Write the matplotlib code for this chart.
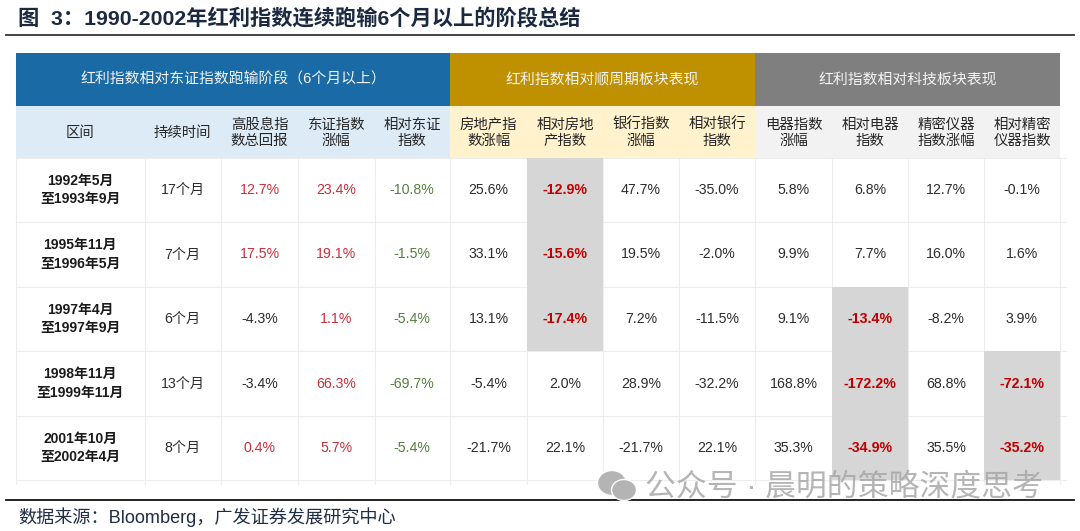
import matplotlib
matplotlib.use("Agg")
import matplotlib.pyplot as plt
import matplotlib.patches as mpatches

plt.rcParams['font.family'] = ['Liberation Sans', 'Noto Sans CJK SC', 'DejaVu Sans']

title = "图  3\uff1a1990-2002年红利指数连续跑输6个月以上的阶段总结"
source = "数据来源\uff1aBloomberg\uff0c广发证券发展研究中心"
watermark = "公众号 · 晨明的策略深度思考"

groups = ["红利指数相对东证指数跑输阶段\uff086个月以上\uff09", "红利指数相对顺周期板块表现", "红利指数相对科技板块表现"]
group_spans = [(0, 5), (5, 9), (9, 13)]
group_colors = ['#1A6AA5', '#BF9000', '#7F7F7F']
sub_colors = ['#DDEBF7', '#FFF2CC', '#F2F2F2']

columns = ["区间", "持续时间", "高股息指\n数总回报", "东证指数\n涨幅", "相对东证\n指数",
           "房地产指\n数涨幅", "相对房地\n产指数", "银行指数\n涨幅", "相对银行\n指数",
           "电器指数\n涨幅", "相对电器\n指数", "精密仪器\n指数涨幅", "相对精密\n仪器指数"]

periods = ["1992年5月\n至1993年9月", "1995年11月\n至1996年5月", "1997年4月\n至1997年9月",
           "1998年11月\n至1999年11月", "2001年10月\n至2002年4月"]
durations = ["17个月", "7个月", "6个月", "13个月", "8个月"]
dividend = ["12.7%", "17.5%", "-4.3%", "-3.4%", "0.4%"]
sse = ["23.4%", "19.1%", "1.1%", "66.3%", "5.7%"]
rel_sse = ["-10.8%", "-1.5%", "-5.4%", "-69.7%", "-5.4%"]
estate = ["25.6%", "33.1%", "13.1%", "-5.4%", "-21.7%"]
rel_estate = ["-12.9%", "-15.6%", "-17.4%", "2.0%", "22.1%"]
bank = ["47.7%", "19.5%", "7.2%", "28.9%", "-21.7%"]
rel_bank = ["-35.0%", "-2.0%", "-11.5%", "-32.2%", "22.1%"]
elec = ["5.8%", "9.9%", "9.1%", "168.8%", "35.3%"]
rel_elec = ["6.8%", "7.7%", "-13.4%", "-172.2%", "-34.9%"]
prec = ["12.7%", "16.0%", "-8.2%", "68.8%", "35.5%"]
rel_prec = ["-0.1%", "1.6%", "3.9%", "-72.1%", "-35.2%"]

table_cols = [periods, durations, dividend, sse, rel_sse, estate, rel_estate,
              bank, rel_bank, elec, rel_elec, prec, rel_prec]

# (row, col) cells with grey fill and bold red text
highlight = [(0, 6), (1, 6), (2, 6), (2, 10), (3, 10), (4, 10), (3, 12), (4, 12)]

RED = '#C00000'
RED_SOFT = '#C8303A'
GREEN = '#55803F'
TEXT = '#2D2D2D'
LINE = '#EDEDED'

col_x = [16, 144.5, 221, 298, 374.5, 450, 527, 603, 679, 755, 832, 908, 984, 1060]
row_y = [158, 222, 287, 351, 416, 480]

fig = plt.figure(figsize=(10.8, 5.31), dpi=100)
ax = fig.add_axes([0, 0, 1, 1])
ax.set_xlim(0, 1080)
ax.set_ylim(531, 0)
ax.axis("off")


def rect(x0, y0, x1, y1, color, z=1):
    ax.add_patch(mpatches.Rectangle((x0, y0), x1 - x0, y1 - y0, fc=color, ec='none', zorder=z))


# title and rules
ax.text(18, 19, title, fontsize=15.3, fontweight='bold', color='#1B2A41', ha='left', va='center')
ax.plot([6, 1074], [35, 35], color='#333333', lw=1.3)
ax.plot([6, 1074], [499.5, 499.5], color='#111111', lw=1.3, zorder=6)
ax.text(18, 517, source, fontsize=13.1, color='#1F2D45', ha='left', va='center')

# header bands
for label, (c0, c1), gc, sc in zip(groups, group_spans, group_colors, sub_colors):
    rect(col_x[c0], 53, col_x[c1], 106, gc)
    rect(col_x[c0], 106, col_x[c1], 158, sc)
    ax.text((col_x[c0] + col_x[c1]) / 2, 80, label, fontsize=10.7, color='#F4F4F4',
            ha='center', va='center', zorder=3)

for i, label in enumerate(columns):
    ax.text((col_x[i] + col_x[i + 1]) / 2, 133, label, fontsize=10.4, color='#262626',
            ha='center', va='center', linespacing=1.2, zorder=3)

# body
for r, c in highlight:
    rect(col_x[c], row_y[r], col_x[c + 1], row_y[r + 1], '#D6D6D6', z=2)

for x in col_x:
    ax.plot([x, x], [158, 484], color=LINE, lw=0.8, zorder=1)
for y in row_y:
    ax.plot([16, 1066], [y, y], color=LINE, lw=0.8, zorder=1)

for c, values in enumerate(table_cols):
    xc = (col_x[c] + col_x[c + 1]) / 2
    for r, value in enumerate(values):
        yc = (row_y[r] + row_y[r + 1]) / 2
        color, weight, size = TEXT, 'normal', 10.2
        if c == 0:
            color, weight, size = '#1A1A1A', 'bold', 10
        elif c in (2, 3) and not value.startswith('-'):
            color = RED_SOFT
        elif c == 4:
            color = GREEN
        if (r, c) in highlight:
            color, weight = RED, 'bold'
        ax.text(xc, yc, value, fontsize=size, fontweight=weight, color=color,
                ha='center', va='center', linespacing=1.4, zorder=4)

# watermark
for cx, cy, w, h in [(612, 483, 29, 25), (624, 490, 25, 21)]:
    ax.add_patch(mpatches.Ellipse((cx, cy), w, h, fc='#B4B4B4', ec='white', lw=1, zorder=7))
ax.text(645, 488, watermark, fontsize=22.2, color='#A8A8A8', alpha=0.85,
        ha='left', va='center', zorder=7)

fig.savefig("out.png", dpi=100)
